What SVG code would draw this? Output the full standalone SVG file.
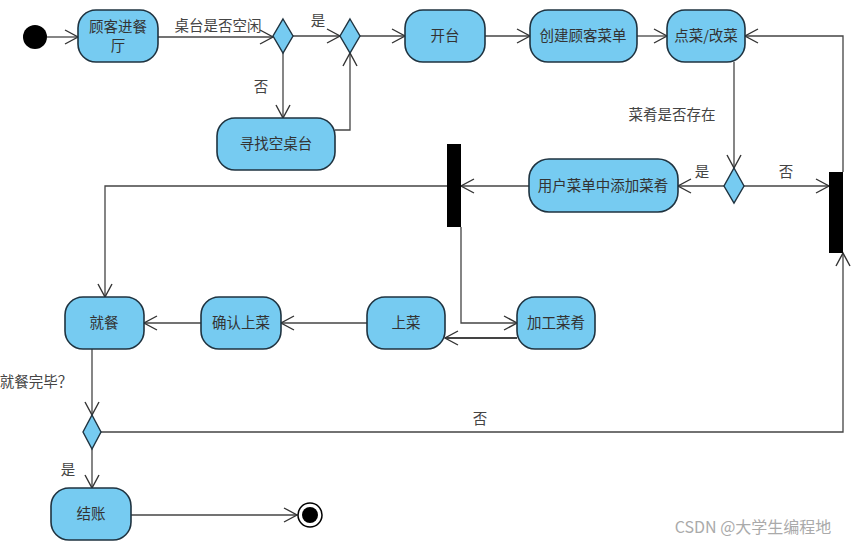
<svg xmlns="http://www.w3.org/2000/svg" width="865" height="545" viewBox="0 0 865 545">
<style>
.node rect{fill:#76cbf1;stroke:#1f3340;stroke-width:1.6}
.node text,.lbl{font-family:"Noto Sans CJK SC","Noto Sans",sans-serif;font-size:14.5px;fill:#333;text-anchor:middle}
.lbl{font-size:14.5px;fill:#444}
.dia{fill:#76cbf1;stroke:#1f3340;stroke-width:1.4}
.bar{fill:#000}
#connectors path{fill:none;stroke:#444;stroke-width:1.3;marker-end:url(#arr)}
</style>
<defs>
<marker id="arr" markerUnits="userSpaceOnUse" markerWidth="16" markerHeight="16" viewBox="0 0 16 16" refX="14" refY="8" orient="auto">
<path d="M1,1 L14,8 L1,15" fill="none" stroke="#333" stroke-width="1.4"/>
</marker>
</defs>
<rect width="865" height="545" fill="#fff"/>
<g id="connectors">
<path d="M47,37 L78,37"/>
<path d="M158,37 L273,37"/>
<path d="M293,36 L340,36"/>
<path d="M283,53 L283,118"/>
<path d="M335,130 L350,130 L350,53"/>
<path d="M360,36 L405,36"/>
<path d="M485,36 L530,36"/>
<path d="M637,36 L667,36"/>
<path d="M843,172 L843,36 L745,36"/>
<path d="M734,62 L734,168"/>
<path d="M724,186 L678,186"/>
<path d="M744,186 L829,186"/>
<path d="M529,186 L461,186"/>
<path d="M447,186 L105,186 L105,297"/>
<path d="M461,227 L461,323 L517,323"/>
<path d="M517,338 L445,338" style="stroke-width:2.2"/>
<path d="M367,323 L281,323"/>
<path d="M201,323 L144,323"/>
<path d="M92,349 L92,415"/>
<path d="M101,432 L843,432 L843,253"/>
<path d="M92,449 L92,488"/>
<path d="M131,515 L297,515"/>
</g>
<g id="labels">
<text class="lbl" x="218" y="31">桌台是否空闲</text>
<text class="lbl" x="318" y="26">是</text>
<text class="lbl" x="261" y="92">否</text>
<text class="lbl" x="672" y="120">菜肴是否存在</text>
<text class="lbl" x="702" y="177">是</text>
<text class="lbl" x="786" y="177">否</text>
<text class="lbl" x="36" y="387">就餐完毕？</text>
<text class="lbl" x="480" y="424">否</text>
<text class="lbl" x="68" y="475">是</text>
</g>
<g id="start"><circle cx="35" cy="37" r="12" fill="#000"/></g>
<g id="n_enter" class="node"><rect x="78" y="10" width="80" height="52" rx="18"/><text x="118" y="32">顾客进餐</text><text x="118" y="51">厅</text></g>
<g id="d1"><path class="dia" d="M283,19 L293,36 L283,53 L273,36 Z"/></g>
<g id="d2"><path class="dia" d="M350,19 L360,36 L350,53 L340,36 Z"/></g>
<g id="n_find" class="node"><rect x="217" y="118" width="118" height="52" rx="18"/><text x="276" y="149">寻找空桌台</text></g>
<g id="n_open" class="node"><rect x="405" y="10" width="80" height="52" rx="18"/><text x="445" y="41">开台</text></g>
<g id="n_create" class="node"><rect x="530" y="10" width="107" height="52" rx="18"/><text x="583" y="41">创建顾客菜单</text></g>
<g id="n_order" class="node"><rect x="667" y="10" width="78" height="52" rx="18"/><text x="706" y="41">点菜/改菜</text></g>
<g id="d3"><path class="dia" d="M734,168 L744,186 L734,203 L724,186 Z"/></g>
<g id="n_add" class="node"><rect x="529" y="159" width="149" height="53" rx="20"/><text x="603" y="191">用户菜单中添加菜肴</text></g>
<g id="bar_left"><rect class="bar" x="447" y="144" width="14" height="83"/></g>
<g id="bar_right"><rect class="bar" x="829" y="172" width="14" height="81"/></g>
<g id="n_cook" class="node"><rect x="517" y="297" width="78" height="52" rx="18"/><text x="556" y="328">加工菜肴</text></g>
<g id="n_serve" class="node"><rect x="367" y="297" width="78" height="52" rx="18"/><text x="406" y="328">上菜</text></g>
<g id="n_confirm" class="node"><rect x="201" y="297" width="80" height="52" rx="18"/><text x="241" y="328">确认上菜</text></g>
<g id="n_eat" class="node"><rect x="65" y="297" width="79" height="52" rx="18"/><text x="104" y="328">就餐</text></g>
<g id="d4"><path class="dia" d="M92,415 L101,432 L92,449 L83,432 Z"/></g>
<g id="n_pay" class="node"><rect x="51" y="488" width="80" height="52" rx="18"/><text x="91" y="519">结账</text></g>
<g id="end"><circle cx="310" cy="515" r="12" fill="#fff" stroke="#000" stroke-width="1.5"/><circle cx="310" cy="515" r="8" fill="#000"/></g>
<text x="753" y="533" style="font-family:'Noto Sans CJK SC','Noto Sans',sans-serif;font-size:16px;fill:#aaa;text-anchor:middle">CSDN @大学生编程地</text>
</svg>
